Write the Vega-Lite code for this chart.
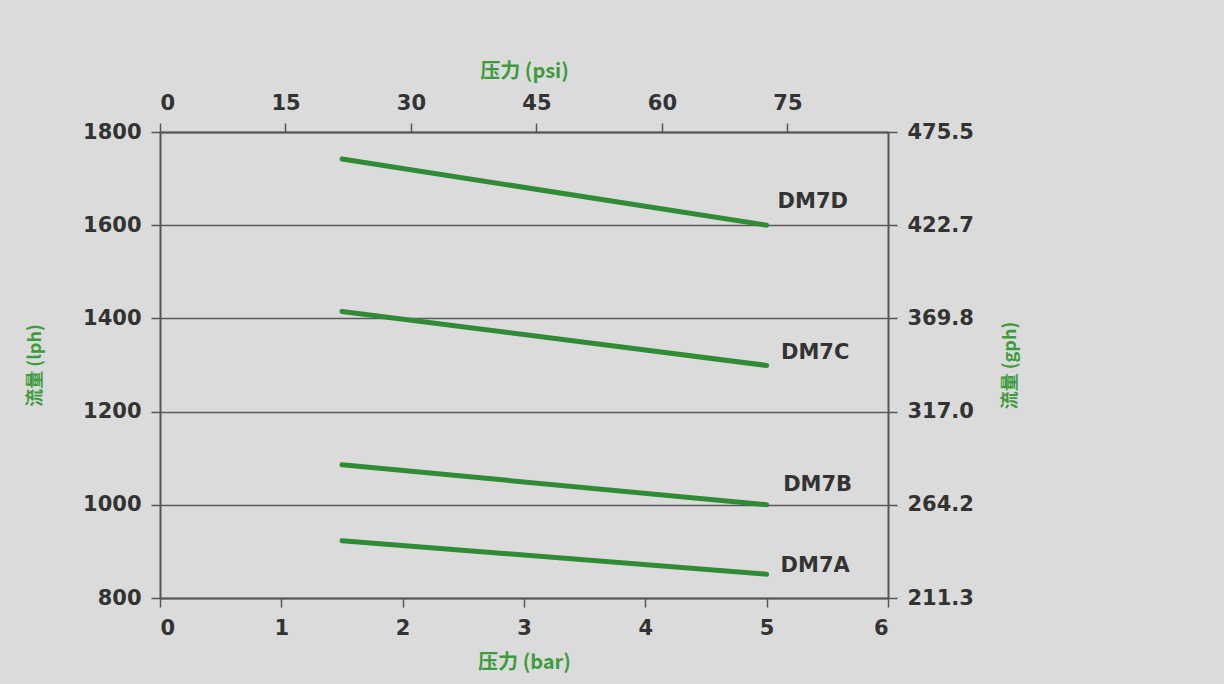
{
  "$schema": "https://vega.github.io/schema/vega-lite/v6.json",
  "width": 728,
  "height": 466,
  "autosize": "none",
  "padding": {"left": 160, "top": 132, "right": 336, "bottom": 86},
  "background": "#dbdbdb",
  "config": {
    "view": {"stroke": null},
    "axis": {
      "domainColor": "#555555",
      "domainWidth": 2,
      "tickColor": "#555555",
      "tickWidth": 1.5,
      "tickSize": 9,
      "labelPadding": 10,
      "labelFont": "DejaVu Sans",
      "labelFontWeight": "bold",
      "labelFontSize": 21,
      "labelColor": "#333333",
      "titleFont": "Noto Sans CJK SC",
      "titleFontWeight": "bold",
      "titleFontSize": 20,
      "titleColor": "#3d9b3d",
      "grid": false
    }
  },
  "datasets": {
    "curves": [
      {"model": "DM7A", "bar": 1.5, "lph": 923},
      {"model": "DM7A", "bar": 5, "lph": 851},
      {"model": "DM7B", "bar": 1.5, "lph": 1086},
      {"model": "DM7B", "bar": 5, "lph": 1000},
      {"model": "DM7C", "bar": 1.5, "lph": 1415},
      {"model": "DM7C", "bar": 5, "lph": 1299},
      {"model": "DM7D", "bar": 1.5, "lph": 1742},
      {"model": "DM7D", "bar": 5, "lph": 1600}
    ],
    "labels": [
      {"model": "DM7D", "bar": 5.38, "lph": 1650},
      {"model": "DM7C", "bar": 5.4, "lph": 1325},
      {"model": "DM7B", "bar": 5.42, "lph": 1043},
      {"model": "DM7A", "bar": 5.4, "lph": 869}
    ]
  },
  "layer": [
    {
      "data": {"name": "curves"},
      "mark": {"type": "line", "color": "#2f8b34", "strokeWidth": 5, "strokeCap": "round"},
      "encoding": {
        "x": {
          "field": "bar", "type": "quantitative",
          "scale": {"domain": [0, 6], "nice": false},
          "axis": {"orient": "bottom", "values": [0, 1, 2, 3, 4, 5, 6], "format": "d", "title": "压力 (bar)", "titlePadding": 14}
        },
        "y": {
          "field": "lph", "type": "quantitative",
          "scale": {"domain": [800, 1800], "nice": false, "zero": false},
          "axis": {"orient": "left", "values": [800, 1000, 1200, 1400, 1600, 1800], "format": "d", "title": "流量 (lph)", "titleFontSize": 18, "titlePadding": 38, "grid": true, "gridColor": "#5a5a5a", "gridWidth": 1.5}
        },
        "detail": {"field": "model"}
      }
    },
    {
      "data": {"name": "labels"},
      "mark": {"type": "text", "font": "DejaVu Sans", "fontWeight": "bold", "fontSize": 21, "color": "#333333", "align": "center", "baseline": "middle"},
      "encoding": {
        "x": {"field": "bar", "type": "quantitative", "scale": {"domain": [0, 6], "nice": false}, "axis": null},
        "y": {"field": "lph", "type": "quantitative", "scale": {"domain": [800, 1800], "nice": false, "zero": false}, "axis": null},
        "text": {"field": "model"}
      }
    },
    {
      "data": {"name": "curves"},
      "mark": {"type": "line", "opacity": 0},
      "encoding": {
        "x": {
          "field": "bar", "type": "quantitative",
          "scale": {"domain": [0, 6], "nice": false},
          "axis": {"orient": "top", "values": [0, 1.034212, 2.068423, 3.102635, 4.136846, 5.171058], "labelExpr": "format(datum.value * 14.5038, '.0f')", "title": "压力 (psi)", "titlePadding": 11}
        },
        "y": {
          "field": "lph", "type": "quantitative",
          "scale": {"domain": [800, 1800], "nice": false, "zero": false},
          "axis": {"orient": "right", "values": [800, 1000, 1200, 1400, 1600, 1800], "labelExpr": "format(datum.value * 0.264172, '.1f')", "title": "流量 (gph)", "titleFontSize": 18, "titleAngle": 270, "titlePadding": 46}
        },
        "detail": {"field": "model"}
      }
    }
  ],
  "resolve": {
    "scale": {"x": "independent", "y": "independent"},
    "axis": {"x": "independent", "y": "independent"}
  }
}
